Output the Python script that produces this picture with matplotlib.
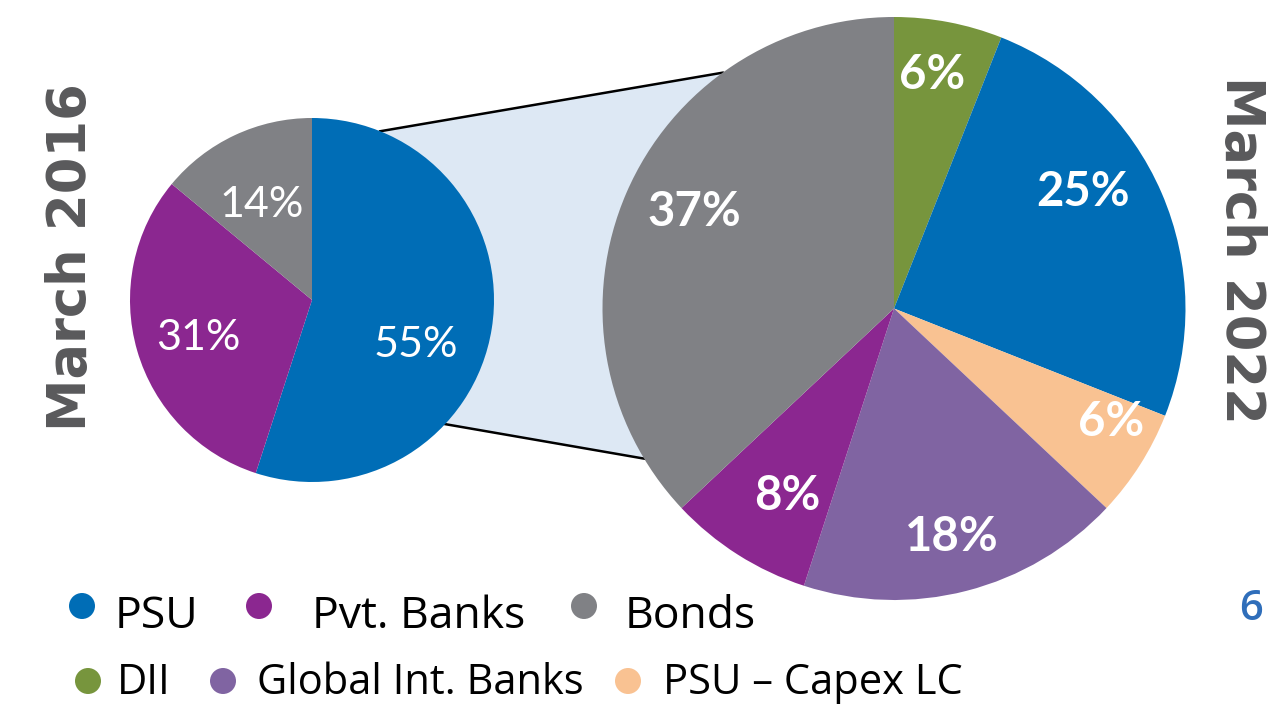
import numpy as np
import matplotlib
matplotlib.use("Agg")
import matplotlib.pyplot as plt
from matplotlib.patches import Polygon, Circle

# data
left_labels = ["PSU", "Pvt. Banks", "Bonds"]
left_values = [55, 31, 14]
left_colors = ["#006DB6", "#8B2790", "#808185"]

right_labels = ["DII", "PSU", "PSU – Capex LC", "Global Int. Banks", "Pvt. Banks", "Bonds"]
right_values = [6, 25, 6, 18, 8, 37]
right_colors = ["#77953D", "#006DB6", "#F9C292", "#8064A2", "#8B2790", "#808185"]

left_title = "March 2016"
right_title = "March 2022"
page_number = "6"

legend_row1 = ["PSU", "Pvt. Banks", "Bonds"]
legend_row1_colors = ["#006DB6", "#8B2790", "#808185"]
legend_row2 = ["DII", "Global Int. Banks", "PSU – Capex LC"]
legend_row2_colors = ["#77953D", "#8064A2", "#F9C292"]

# layout (pixel space, y upwards)
W, H = 1281, 706
FONT = ["Lato", "DejaVu Sans"]
LEG_FONT = ["Open Sans", "DejaVu Sans"]
left_c, left_r = (312, H - 300), 182
right_c, right_r = (894, H - 308.5), 291.5
# label placement: (radius fraction, angle nudge in degrees)
left_lab_pos = [(0.62, -14.6), (0.66, 2), (0.59, 3)]
right_lab_pos = [(0.81, 1.6), (0.76, 8.2), (0.84, 4.7), (0.81, -0.2), (0.74, 2.8), (0.76, -2.3)]


def pt_on(c, r, ang):
    a = np.deg2rad(ang)
    return (c[0] + r * np.cos(a), c[1] + r * np.sin(a))


def draw_pie(ax, values, colors, center, radius, lab_pos, bold):
    wedges, _ = ax.pie(values, colors=colors, startangle=90, counterclock=False,
                       center=center, radius=radius,
                       wedgeprops=dict(linewidth=0, zorder=3))
    for w, v, (frac, nudge) in zip(wedges, values, lab_pos):
        mid = (w.theta1 + w.theta2) / 2 + nudge
        x, y = pt_on(center, radius * frac, mid)
        ax.text(x, y, f"{v}%", ha="center", va="center", color="white",
                fontsize=34 if bold else 31, fontweight="bold" if bold else "normal",
                family=FONT, zorder=5)


fig = plt.figure(figsize=(W / 100, H / 100), dpi=100)
ax = fig.add_axes([0, 0, 1, 1])

# connector band between the two pies
lt = pt_on(left_c, left_r, 68)
lb = pt_on(left_c, left_r, -43)
rt = pt_on(right_c, right_r, 126)
rb = pt_on(right_c, right_r, -149)
ax.add_patch(Polygon([lt, rt, rb, lb], closed=True, facecolor="#DDE8F4",
                     edgecolor="none", zorder=1))
ax.plot([lt[0], rt[0]], [lt[1], rt[1]], color="black", lw=1.8, zorder=2)
ax.plot([lb[0], rb[0]], [lb[1], rb[1]], color="black", lw=1.8, zorder=2)

draw_pie(ax, left_values, left_colors, left_c, left_r, left_lab_pos, bold=False)
draw_pie(ax, right_values, right_colors, right_c, right_r, right_lab_pos, bold=True)

ax.set_xlim(0, W)
ax.set_ylim(0, H)
ax.set_aspect("equal")
ax.axis("off")

# side titles
ax.text(71, H - 257, left_title, rotation=90, ha="center", va="center",
        fontsize=38, fontweight="bold", color="#59595B", family="DejaVu Sans")
ax.text(1241, H - 250, right_title, rotation=-90, ha="center", va="center",
        fontsize=38, fontweight="bold", color="#59595B", family="DejaVu Sans")

# legend
rows = [
    (legend_row1, legend_row1_colors, [82, 259, 584], [115, 312, 625], 606, 628, 32),
    (legend_row2, legend_row2_colors, [88, 223, 628], [117, 257, 663], 681, 694, 30),
]
for labels, colors, mx, tx, my, base, fs in rows:
    for lab, col, m, t in zip(labels, colors, mx, tx):
        ax.add_patch(Circle((m, H - my), 13, facecolor=col, edgecolor="none", zorder=4))
        ax.text(t, H - base, lab, ha="left", va="baseline", fontsize=fs, color="black",
                family=LEG_FONT)

ax.text(1251, H - 620, page_number, ha="center", va="baseline", fontsize=30,
        fontweight="semibold", color="#2F6EBA", family=LEG_FONT)

fig.savefig("out.png", dpi=100)
